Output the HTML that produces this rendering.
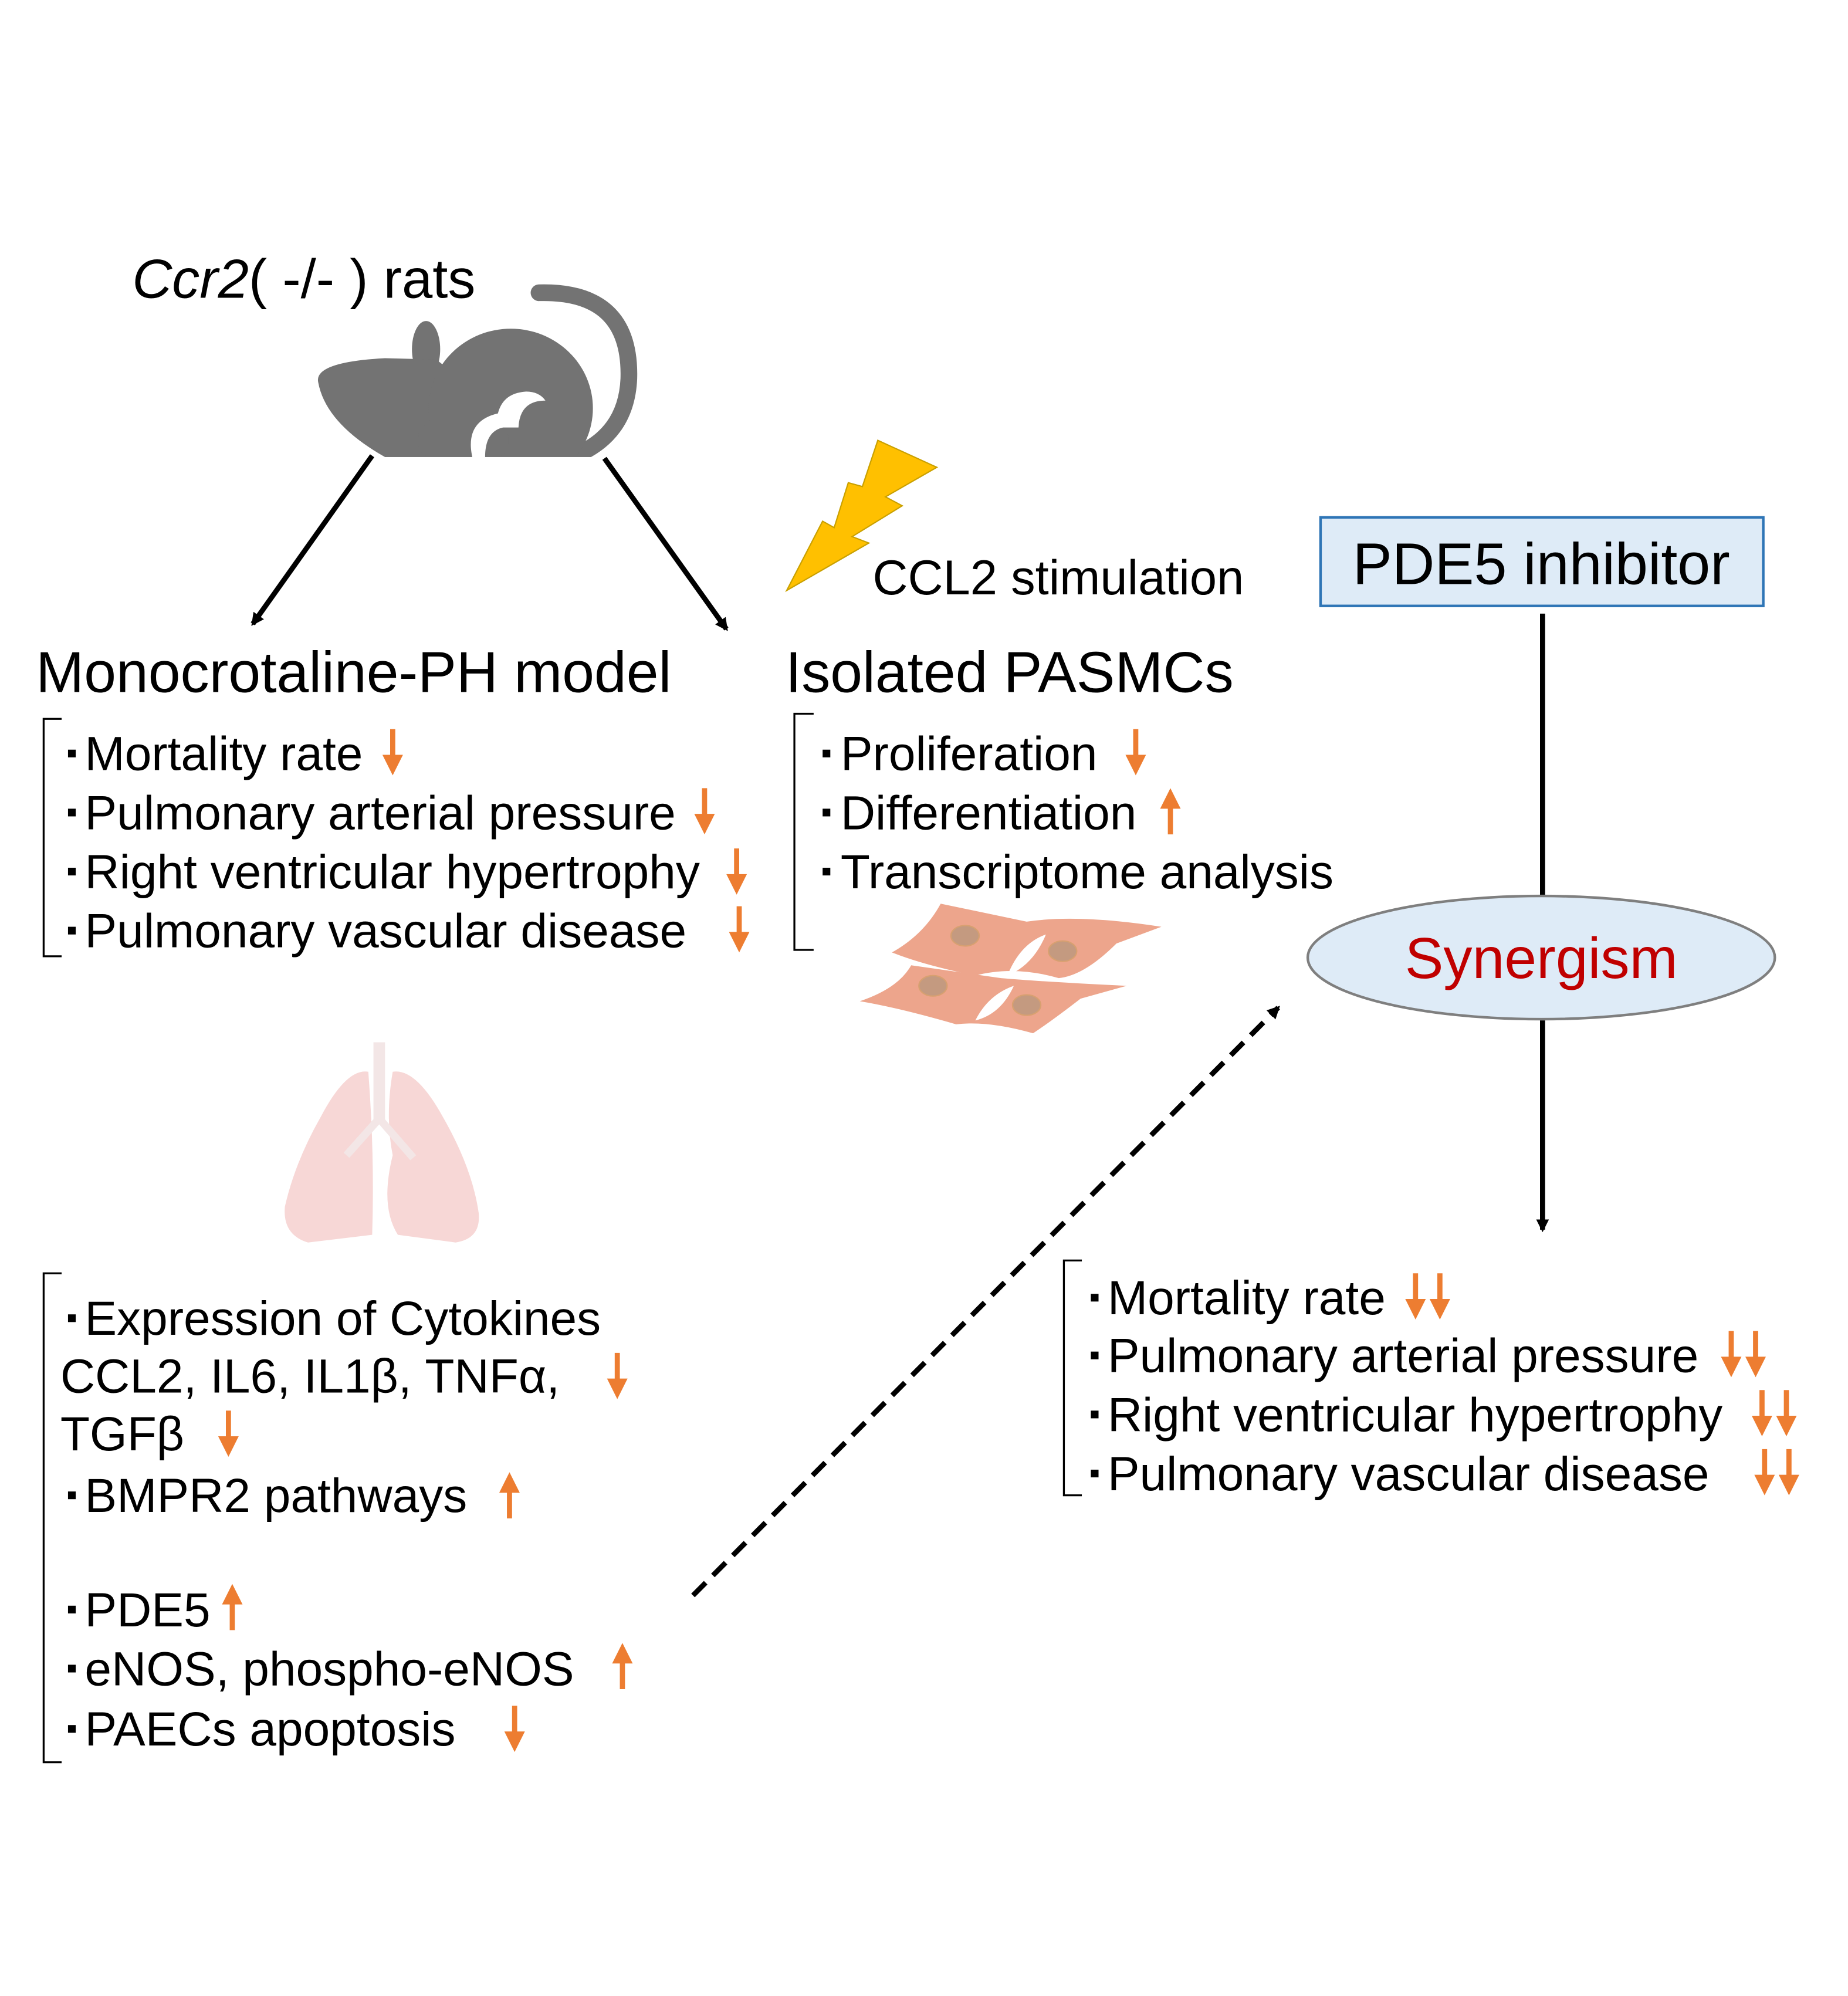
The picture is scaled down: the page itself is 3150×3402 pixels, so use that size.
<!DOCTYPE html>
<html><head><meta charset="utf-8"><style>
html,body{margin:0;padding:0;background:#fff;}
svg{display:block;}
text{font-family:"Liberation Sans",sans-serif;fill:#000;}
</style></head><body>
<svg width="3150" height="3402" viewBox="0 0 1440 1555" xmlns="http://www.w3.org/2000/svg">
<defs>
<g id="dn"><line x1="0" y1="0" x2="0" y2="24" stroke="#ED7D31" stroke-width="4"/><polygon points="-8,20 8,20 0,36" fill="#ED7D31"/></g>
<g id="up"><line x1="0" y1="12" x2="0" y2="36" stroke="#ED7D31" stroke-width="4"/><polygon points="-8,16 8,16 0,0" fill="#ED7D31"/></g>
<marker id="ah" markerWidth="10" markerHeight="10" refX="8" refY="5" orient="auto" markerUnits="userSpaceOnUse"><polygon points="0,0 10,5 0,10" fill="#000"/></marker>
</defs>

<text x="103" y="232" font-size="43"><tspan font-style="italic">Ccr2</tspan>( -/- ) rats</text>

<g fill="#737373">
<path d="M420,228 Q492,226 490,295 Q488,340 445,356" stroke="#737373" stroke-width="13" fill="none" stroke-linecap="round"/>
<ellipse cx="332" cy="272" rx="11" ry="22"/>
<path d="M248,298 Q244,282 300,279 L340,280 L365,300 L372,356 L300,356 Q254,330 248,298Z"/>
<ellipse cx="398" cy="318" rx="64" ry="62"/>
<rect x="326" y="330" width="70" height="26" rx="10"/>
</g>
<rect x="240" y="356" width="260" height="30" fill="#fff"/>
<path d="M368,356 Q362,328 388,322 Q392,306 410,305 Q420,305 425,312 Q405,312 404,333 L392,333 Q378,336 378,356Z" fill="#fff"/>

<line x1="290" y1="355" x2="197" y2="486" stroke="#000" stroke-width="4" marker-end="url(#ah)"/>
<line x1="471" y1="357" x2="566" y2="490" stroke="#000" stroke-width="4" marker-end="url(#ah)"/>

<polygon points="684,343 730,364 690,387 703,394 664,418 677,423 613,460 641,406 650,411 661,376 672,379" fill="#FFC000" stroke="#C9A000" stroke-width="1"/>
<text x="680" y="463" font-size="38">CCL2 stimulation</text>

<rect x="1029" y="403" width="345" height="69" fill="#DEEBF7" stroke="#2E75B6" stroke-width="2"/>
<text x="1201" y="455" font-size="46" text-anchor="middle">PDE5 inhibitor</text>
<line x1="1202" y1="478" x2="1202" y2="698" stroke="#000" stroke-width="4"/>
<ellipse cx="1201" cy="746" rx="182" ry="48" fill="#DEEBF7" stroke="#7F7F7F" stroke-width="2"/>
<text x="1201" y="762" font-size="45" text-anchor="middle" style="fill:#C00000">Synergism</text>
<line x1="1202" y1="795" x2="1202" y2="958" stroke="#000" stroke-width="4" marker-end="url(#ah)"/>

<line x1="540" y1="1243" x2="996" y2="785" stroke="#000" stroke-width="4" stroke-dasharray="14,8" marker-end="url(#ah)"/>

<text x="28" y="539" font-size="45">Monocrotaline-PH model</text>
<path d="M48,560 L34,560 L34,745 L48,745" fill="none" stroke="#000" stroke-width="1.5"/>
<g fill="#000">
<rect x="53" y="584" width="6" height="6"/><rect x="53" y="630" width="6" height="6"/><rect x="53" y="676" width="6" height="6"/><rect x="53" y="722" width="6" height="6"/>
<rect x="641" y="584" width="6" height="6"/><rect x="641" y="630" width="6" height="6"/><rect x="641" y="676" width="6" height="6"/>
<rect x="53" y="1024" width="6" height="6"/><rect x="53" y="1162" width="6" height="6"/><rect x="53" y="1251" width="6" height="6"/><rect x="53" y="1297" width="6" height="6"/><rect x="53" y="1344" width="6" height="6"/>
<rect x="850" y="1008" width="6" height="6"/><rect x="850" y="1053" width="6" height="6"/><rect x="850" y="1099" width="6" height="6"/><rect x="850" y="1145" width="6" height="6"/>
</g>
<g font-size="37.5">
<text x="66" y="600">Mortality rate</text>
<text x="66" y="646">Pulmonary arterial pressure</text>
<text x="66" y="692">Right ventricular hypertrophy</text>
<text x="66" y="738">Pulmonary vascular disease</text>
</g>
<use href="#dn" x="306" y="568"/><use href="#dn" x="549" y="614"/><use href="#dn" x="574" y="661"/><use href="#dn" x="576" y="706"/>

<text x="612" y="539" font-size="45">Isolated PASMCs</text>
<path d="M634,556 L619,556 L619,740 L634,740" fill="none" stroke="#000" stroke-width="1.5"/>
<g font-size="37.5">
<text x="655" y="600">Proliferation</text>
<text x="655" y="646">Differentiation</text>
<text x="655" y="692">Transcriptome analysis</text>
</g>
<use href="#dn" x="885" y="568"/><use href="#up" x="912" y="614"/>

<g fill="#EDA58C">
<path d="M695,742 Q720,728 733,704 L800,718 Q840,712 905,722 L870,735 Q845,760 825,762 Q790,752 760,760 Q720,752 695,742Z"/>
<path d="M670,780 Q700,770 710,752 L780,762 Q815,765 878,768 L842,778 Q820,795 805,805 Q770,795 745,798 Q700,785 670,780Z"/>
</g>
<path d="M785,760 Q795,735 815,728 Q805,752 785,760Z M760,795 Q770,775 790,768 Q780,790 760,795Z" fill="#fff"/>
<g fill="#C49A80" stroke="#D8A070" stroke-width="1">
<ellipse cx="752" cy="729" rx="11" ry="8"/><ellipse cx="828" cy="741" rx="11" ry="8"/>
<ellipse cx="727" cy="768" rx="11" ry="8"/><ellipse cx="800" cy="783" rx="11" ry="8"/>
</g>

<g fill="#F7D7D6">
<path d="M287,835 Q270,832 250,870 Q230,905 222,940 Q220,962 240,968 L290,962 Q292,900 287,835Z"/>
<path d="M306,835 Q324,832 345,870 Q368,910 373,945 Q375,965 355,968 L310,962 Q296,940 306,900 Q300,870 306,835Z"/>
</g>
<rect x="291" y="812" width="9" height="62" fill="#F3E6E6"/>
<path d="M295,872 L270,900 M296,872 L322,902" stroke="#F3E6E6" stroke-width="6" fill="none"/>

<path d="M48,992 L34,992 L34,1373 L48,1373" fill="none" stroke="#000" stroke-width="1.5"/>
<g font-size="37.5">
<text x="66" y="1040">Expression of Cytokines</text>
<text x="47" y="1085">CCL2, IL6, IL1β, TNFα,</text>
<text x="47" y="1130">TGFβ</text>
<text x="66" y="1178">BMPR2 pathways</text>
<text x="66" y="1267">PDE5</text>
<text x="66" y="1313">eNOS, phospho-eNOS</text>
<text x="66" y="1360">PAECs apoptosis</text>
</g>
<use href="#dn" x="481" y="1054"/><use href="#dn" x="178" y="1099"/><use href="#up" x="397" y="1147"/>
<use href="#up" x="181" y="1234"/><use href="#up" x="485" y="1280"/><use href="#dn" x="401" y="1329"/>

<path d="M843,982 L829,982 L829,1165 L843,1165" fill="none" stroke="#000" stroke-width="1.5"/>
<g font-size="37.5">
<text x="863" y="1024">Mortality rate</text>
<text x="863" y="1069">Pulmonary arterial pressure</text>
<text x="863" y="1115">Right ventricular hypertrophy</text>
<text x="863" y="1161">Pulmonary vascular disease</text>
</g>
<use href="#dn" x="1103" y="992"/><use href="#dn" x="1122" y="992"/>
<use href="#dn" x="1349" y="1037"/><use href="#dn" x="1368" y="1037"/>
<use href="#dn" x="1373" y="1083"/><use href="#dn" x="1392" y="1083"/>
<use href="#dn" x="1375" y="1129"/><use href="#dn" x="1394" y="1129"/>
</svg>
</body></html>
